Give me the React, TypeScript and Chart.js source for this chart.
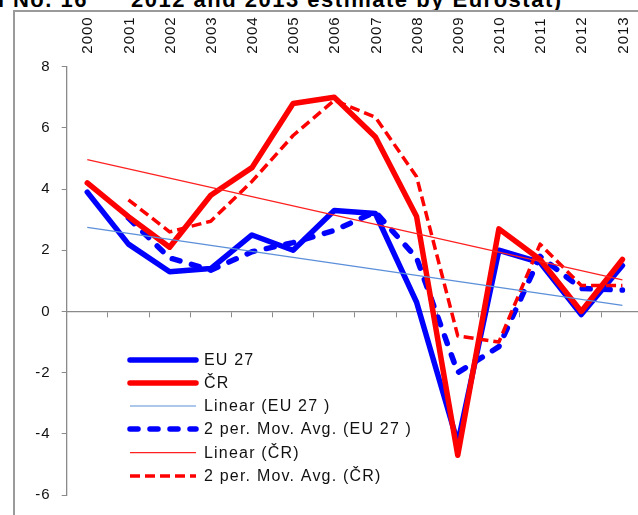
import React, { useEffect, useRef } from "react";
import { Chart, registerables } from "chart.js";

Chart.register(...registerables);

const years = ["2000", "2001", "2002", "2003", "2004", "2005", "2006", "2007", "2008", "2009", "2010", "2011", "2012", "2013"];
const eu27 = [3.9, 2.2, 1.3, 1.4, 2.5, 2.0, 3.3, 3.2, 0.3, -4.3, 2.0, 1.6, -0.1, 1.5];
const cr = [4.2, 3.1, 2.1, 3.8, 4.7, 6.8, 7.0, 5.7, 3.1, -4.7, 2.7, 1.7, 0.0, 1.7];
const euMovAvg = [null, 3.05, 1.75, 1.35, 1.95, 2.25, 2.65, 3.25, 1.75, -2.0, -1.15, 1.8, 0.75, 0.7];
const crMovAvg = [null, 3.65, 2.6, 2.95, 4.25, 5.75, 6.9, 6.35, 4.4, -0.8, -1.0, 2.2, 0.85, 0.85];
const euLinear = [2.75, null, null, null, null, null, null, null, null, null, null, null, null, 0.2];
const crLinear = [4.96, null, null, null, null, null, null, null, null, null, null, null, null, 1.03];
const yMin = -6;
const yMax = 8;
const yStep = 2;

const FONT = '"Liberation Sans", Arial, sans-serif';

const spacingPlugin = {
  id: "spacing",
  beforeDraw(chart: any) {
    (chart.ctx as any).letterSpacing = "1px";
  },
};

const legendPlugin = {
  id: "customLegend",
  afterDatasetsDraw(chart: any) {
    const ctx = chart.ctx as CanvasRenderingContext2D;
    const rows = [360, 383, 406, 429, 452.7, 476];
    chart.data.datasets.forEach((ds: any, i: number) => {
      const y = rows[i];
      ctx.save();
      ctx.strokeStyle = ds.borderColor;
      ctx.lineWidth = ds.borderWidth;
      ctx.setLineDash(ds.borderDash || []);
      ctx.lineCap = ds.borderCapStyle || "butt";
      ctx.beginPath();
      ctx.moveTo(130, y);
      ctx.lineTo(196, y);
      ctx.stroke();
      ctx.setLineDash([]);
      ctx.fillStyle = "#111";
      ctx.font = "16px " + FONT;
      (ctx as any).letterSpacing = "1.2px";
      ctx.textBaseline = "middle";
      ctx.textAlign = "left";
      ctx.fillText(ds.label, 204, y + 1);
      ctx.restore();
    });
  },
};

export default function App() {
  const ref = useRef<HTMLCanvasElement>(null);
  useEffect(() => {
    const chart = new Chart(ref.current as HTMLCanvasElement, {
      type: "line",
      data: {
        labels: years,
        datasets: [
          { label: "EU 27", data: eu27, borderColor: "#0000ff", borderWidth: 5.5, borderCapStyle: "round", borderJoinStyle: "round", order: 4 },
          { label: "ČR", data: cr, borderColor: "#ff0000", borderWidth: 5.5, borderCapStyle: "round", borderJoinStyle: "round", order: 2 },
          { label: "Linear (EU 27 )", data: euLinear, borderColor: "#5b8fd9", borderWidth: 1.2, spanGaps: true, order: 1 },
          { label: "2 per. Mov. Avg. (EU 27 )", data: euMovAvg, borderColor: "#0000ff", borderWidth: 5.5, borderDash: [8, 12], borderCapStyle: "round", borderJoinStyle: "round", order: 5 },
          { label: "Linear (ČR)", data: crLinear, borderColor: "#ff2020", borderWidth: 1.2, spanGaps: true, order: 0 },
          { label: "2 per. Mov. Avg. (ČR)", data: crMovAvg, borderColor: "#ff0000", borderWidth: 3.5, borderDash: [10, 5], borderJoinStyle: "round", order: 3 },
        ] as any,
      },
      options: {
        animation: false,
        responsive: false,
        maintainAspectRatio: false,
        layout: { padding: { left: 0, top: 0, right: 0, bottom: 14 } },
        elements: { point: { radius: 0, hoverRadius: 0 }, line: { tension: 0 } },
        plugins: { legend: { display: false }, tooltip: { enabled: false }, title: { display: false } },
        scales: {
          x: {
            type: "category",
            position: "top",
            offset: true,
            grid: { display: false, drawTicks: false },
            border: { display: false },
            ticks: {
              autoSkip: false,
              maxRotation: 90,
              minRotation: 90,
              padding: 13,
              labelOffset: 19,
              color: "#111",
              font: { family: FONT, size: 15 },
            },
            afterFit: (s: any) => {
              s.height = 66.7;
            },
          },
          x2: {
            type: "category",
            position: { y: 0 } as any,
            offset: true,
            grid: { offset: true, drawOnChartArea: false, tickLength: 5, color: "#8a8a8a" },
            border: { display: true, color: "#8a8a8a", width: 1.3 },
            ticks: { display: false },
          },
          y: {
            min: yMin,
            max: yMax,
            position: "left",
            grid: { drawOnChartArea: false, tickLength: 5, color: "#8a8a8a" },
            border: { display: true, color: "#8a8a8a", width: 1.3 },
            ticks: {
              stepSize: yStep,
              padding: 11,
              color: "#111",
              font: { family: FONT, size: 15 },
            },
            afterFit: (s: any) => {
              s.width = 66.7;
            },
          },
        },
      } as any,
      plugins: [spacingPlugin, legendPlugin],
    });
    return () => chart.destroy();
  }, []);

  return (
    <div style={{ position: "fixed", left: 0, top: 0, width: 638, height: 515, overflow: "hidden", background: "#fff" }}>
      <div
        style={{
          position: "absolute",
          right: 550,
          top: -10.6,
          font: "bold 22px " + FONT,
          lineHeight: "22px",
          letterSpacing: "1.5px",
          whiteSpace: "nowrap",
          color: "#000",
        }}
      >
        Graph No. 16
      </div>
      <div
        style={{
          position: "absolute",
          left: 131,
          top: -10.6,
          font: "bold 22px " + FONT,
          lineHeight: "22px",
          letterSpacing: "1.5px",
          whiteSpace: "nowrap",
          color: "#000",
        }}
      >
        2012 and 2013 estimate by Eurostat)
      </div>
      <div
        style={{
          position: "absolute",
          left: 13,
          top: 10,
          width: 700,
          height: 600,
          borderLeft: "2px solid #9a9a9a",
          borderTop: "2px solid #9a9a9a",
        }}
      />
      <canvas ref={ref} width={643} height={515} style={{ position: "absolute", left: 0, top: 0, width: 643, height: 515 }} />
    </div>
  );
}
